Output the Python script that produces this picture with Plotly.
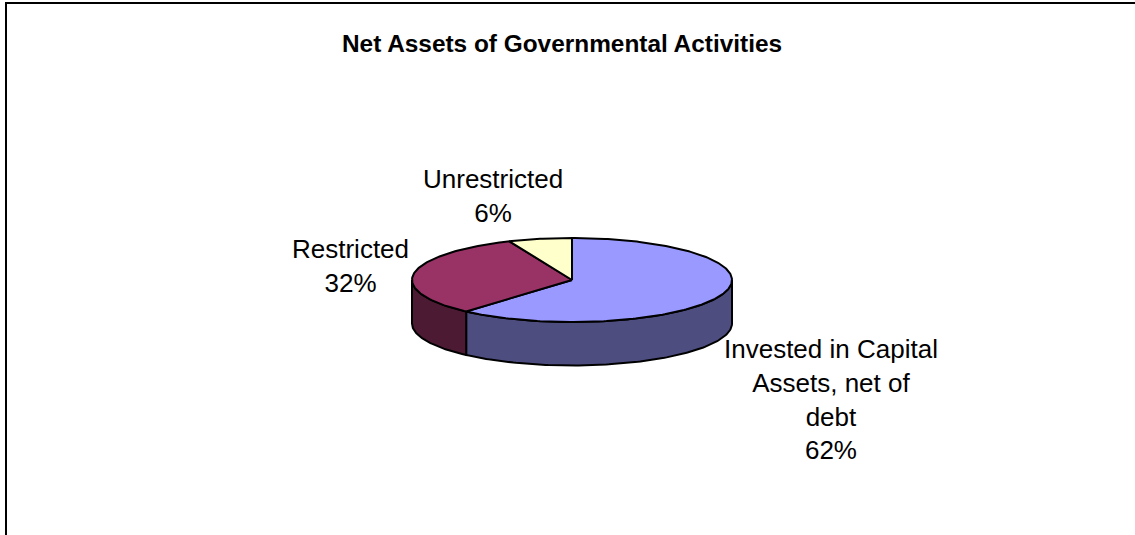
import numpy as np
import plotly.graph_objects as go

categories = ["Invested in Capital Assets, net of debt", "Restricted", "Unrestricted"]
label_lines = ["Invested in Capital<br>Assets, net of<br>debt", "Restricted", "Unrestricted"]
values = [61.5, 32.1, 6.4]
top_colors = ["#9999FF", "#993366", "#FFFFCC"]
side_colors = ["#4D4D80", "#4D1A33", "#808066"]
title = "Net Assets of Governmental Activities"

W, H = 1135, 535
CX, CY, RX, RY, DEPTH = 572, 280, 160, 42, 43.5
LINE = dict(color="black", width=2)
label_pos = [(830.5, 399), (350, 266), (492.5, 196)]


def arc(a0, a1, drop=0.0):
    t = np.radians(np.linspace(a0, a1, max(3, int(abs(a1 - a0)) + 2)))
    return np.sin(t), np.cos(t) - drop


fig = go.Figure()
drop = DEPTH / RY
cum = np.concatenate([[0], np.cumsum(values)]) / sum(values) * 360

# side walls: only the front half of the rim (90..270 deg clockwise from top)
for i in range(len(values)):
    a0, a1 = max(cum[i], 90), min(cum[i + 1], 270)
    if a1 <= a0:
        continue
    x0, y0 = arc(a0, a1)
    x1, y1 = arc(a1, a0, drop)
    fig.add_trace(go.Scatter(x=np.r_[x0, x1, x0[0]], y=np.r_[y0, y1, y0[0]], mode="lines",
                             fill="toself", fillcolor=side_colors[i], line=LINE,
                             hoverinfo="skip", showlegend=False))

# top face slices
for i, name in enumerate(categories):
    x0, y0 = arc(cum[i], cum[i + 1])
    fig.add_trace(go.Scatter(x=np.r_[0, x0, 0], y=np.r_[0, y0, 0], mode="lines",
                             fill="toself", fillcolor=top_colors[i], line=LINE,
                             name=name, showlegend=False))

for i, (px, py) in enumerate(label_pos):
    fig.add_annotation(x=px / W, y=1 - py / H, xref="paper", yref="paper", showarrow=False,
                       xanchor="center", yanchor="middle",
                       text=f"{label_lines[i]}<br>{round(values[i])}%", align="center",
                       font=dict(family="Liberation Sans", size=26, color="black"))

fig.add_annotation(x=561.5 / W, y=1 - 44 / H, xref="paper", yref="paper", showarrow=False,
                   xanchor="center", yanchor="middle",
                   text=f"<b>{title}</b>",
                   font=dict(family="Liberation Sans", size=24.4, color="black"))

# chart frame: left and top edges only, as cropped in the picture
fig.add_shape(type="path", xref="paper", yref="paper", line=dict(color="black", width=2),
              path=f"M {6/W} 0 L {6/W} {1-3/H} L 1 {1-3/H}")

fig.update_layout(
    width=W, height=H, autosize=False, margin=dict(l=0, r=0, t=0, b=0),
    paper_bgcolor="white", plot_bgcolor="white",
    xaxis=dict(visible=False, range=[-CX / RX, (W - CX) / RX], fixedrange=True),
    yaxis=dict(visible=False, range=[-(H - CY) / RY, CY / RY], fixedrange=True),
)
fig.write_html("out.html", config=dict(displayModeBar=False),
               post_script="document.body.style.margin='0';document.body.style.overflow='hidden';")
